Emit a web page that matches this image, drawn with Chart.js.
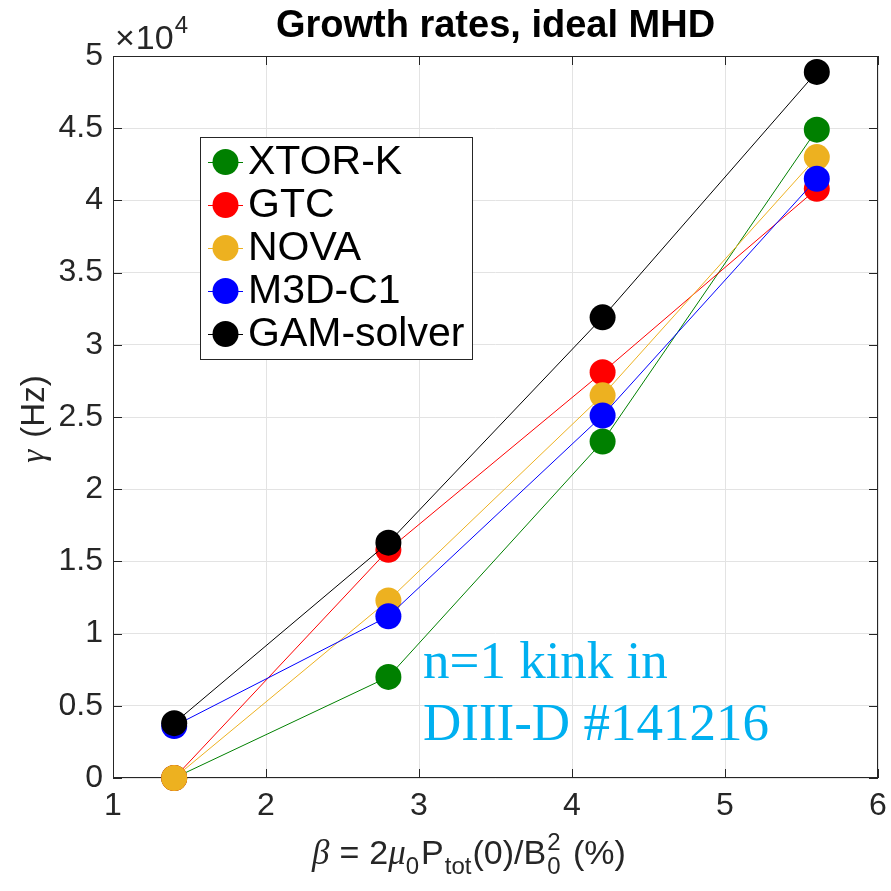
<!DOCTYPE html>
<html>
<head>
<meta charset="utf-8">
<script src="https://cdn.jsdelivr.net/npm/chart.js@4.4.1/dist/chart.umd.min.js"></script>
<style>
  html, body { margin: 0; padding: 0; background: #ffffff; }
  #wrap { width: 891px; height: 891px; position: relative; }
</style>
</head>
<body>
<div id="wrap"><canvas id="growth" width="891" height="891"></canvas></div>
<script>
// Plasma beta (%) at which each code was run
const betaPercent = [1.4, 2.8, 4.2, 5.6];

// Growth rates gamma (Hz) per code
const xtorK     = [0,    7000,  23300, 44900];
const gtc       = [0,    15800, 28100, 40800];
const nova      = [0,    12300, 26500, 43000];
const m3dC1     = [3600, 11200, 25100, 41500];
const gamSolver = [3800, 16300, 31900, 48900];

const seriesNames  = ['XTOR-K', 'GTC', 'NOVA', 'M3D-C1', 'GAM-solver'];
const seriesValues = [xtorK, gtc, nova, m3dC1, gamSolver];
const seriesColors = ['#008000', '#ff0000', '#EDB120', '#0000ff', '#000000'];

// Axis ranges and tick steps
const xRange = [1, 6];
const xStep = 1;
const yRange = [0, 50000];
const yStep = 5000;
const yExponent = 4;

const titleText = 'Growth rates, ideal MHD';
const noteLines = ['n=1 kink in', 'DIII-D #141216'];

const SANS = '"Liberation Sans", Arial, Helvetica, sans-serif';
const SERIF = '"Liberation Serif", "Times New Roman", serif';
const AXIS_COLOR = '#262626';

const datasets = seriesNames.map((name, k) => ({
  label: name,
  data: betaPercent.map((b, i) => ({ x: b, y: seriesValues[k][i] })),
  borderColor: seriesColors[k],
  backgroundColor: seriesColors[k],
  pointBackgroundColor: seriesColors[k],
  pointBorderColor: seriesColors[k],
  pointBorderWidth: 0,
  pointRadius: 13,
  pointHoverRadius: 13,
  borderWidth: 1,
  tension: 0,
  clip: false,
  // later series are painted on top
  order: seriesNames.length - k
}));

// Text runs with sub/superscripts, laid out left to right from a baseline
function runsWidth(ctx, runs) {
  let w = 0;
  for (const r of runs) {
    ctx.font = r.font;
    const rw = ctx.measureText(r.t).width;
    if (!r.stack) w += rw + (r.gap || 0);
  }
  return w;
}
function drawRuns(ctx, runs, x, y) {
  let cx = x;
  for (const r of runs) {
    ctx.font = r.font;
    ctx.fillText(r.t, cx, y + (r.dy || 0));
    const rw = ctx.measureText(r.t).width;
    if (!r.stack) cx += rw + (r.gap || 0);
  }
}

const decorations = {
  id: 'decorations',
  beforeDatasetsDraw(chart) {
    const { ctx, chartArea: a, scales } = chart;
    ctx.save();
    // axes box
    ctx.strokeStyle = AXIS_COLOR;
    ctx.lineWidth = 1;
    ctx.strokeRect(Math.round(a.left) + 0.5, Math.round(a.top) + 0.5,
                   Math.round(a.right - a.left) - 1, Math.round(a.bottom - a.top) - 1);
    // inward tick marks on all four sides
    const tl = 9;
    ctx.beginPath();
    for (let v = xRange[0]; v <= xRange[1]; v += xStep) {
      const px = Math.round(scales.x.getPixelForValue(v)) + 0.5;
      ctx.moveTo(px, a.bottom); ctx.lineTo(px, a.bottom - tl);
      ctx.moveTo(px, a.top); ctx.lineTo(px, a.top + tl);
    }
    for (let v = yRange[0]; v <= yRange[1]; v += yStep) {
      const py = Math.round(scales.y.getPixelForValue(v)) + 0.5;
      ctx.moveTo(a.left, py); ctx.lineTo(a.left + tl, py);
      ctx.moveTo(a.right, py); ctx.lineTo(a.right - tl, py);
    }
    ctx.stroke();
    ctx.restore();
  },
  afterDatasetsDraw(chart) {
    const { ctx, chartArea: a } = chart;
    const cx = (a.left + a.right) / 2;
    ctx.save();
    ctx.textBaseline = 'alphabetic';

    // title
    ctx.fillStyle = '#000000';
    ctx.font = 'bold 38px ' + SANS;
    ctx.textAlign = 'center';
    ctx.fillText(titleText, cx, 37);

    // exponent marker above the y axis
    ctx.textAlign = 'left';
    ctx.fillStyle = AXIS_COLOR;
    drawRuns(ctx, [
      { t: '\u00d7', font: '34px ' + SANS, gap: 1 },
      { t: '10', font: '34px ' + SANS, gap: 1 },
      { t: String(yExponent), font: '24px ' + SANS, dy: -16 }
    ], a.left + 2, 49);

    // x axis title
    const base = '34px ' + SANS;
    const small = '24px ' + SANS;
    const greek = 'italic 35px ' + SERIF;
    const xRuns = [
      { t: '\u03b2', font: greek, gap: 10 },
      { t: '=', font: base, gap: 10 },
      { t: '2', font: base },
      { t: '\u03bc', font: greek, gap: 0 },
      { t: '0', font: small, dy: 10, gap: 2 },
      { t: 'P', font: base, gap: 1 },
      { t: 'tot', font: small, dy: 10, gap: 1 },
      { t: '(0)/B', font: base, gap: 1 },
      { t: '2', font: small, dy: -14, stack: true },
      { t: '0', font: small, dy: 10, gap: 3 },
      { t: ' (%)', font: base }
    ];
    drawRuns(ctx, xRuns, 312, 864);

    // y axis title
    const yRuns = [
      { t: '\u03b3', font: 'italic 33px ' + SERIF, gap: 12 },
      { t: '(Hz)', font: '33px ' + SANS }
    ];
    const yw = runsWidth(ctx, yRuns);
    ctx.translate(44, 419);
    ctx.rotate(-Math.PI / 2);
    drawRuns(ctx, yRuns, -yw / 2, 0);
    ctx.setTransform(1, 0, 0, 1, 0, 0);

    // legend box inside the axes
    const lx = 200, ly = 137, lw = 272, lh = 222;
    ctx.fillStyle = '#ffffff';
    ctx.fillRect(lx, ly, lw, lh);
    ctx.strokeStyle = AXIS_COLOR;
    ctx.lineWidth = 1;
    ctx.strokeRect(lx + 0.5, ly + 0.5, lw, lh);
    const rowH = 43;
    ctx.font = '41px ' + SANS;
    ctx.textBaseline = 'middle';
    chart.data.datasets.forEach((ds, i) => {
      const ry = 162 + i * rowH;
      ctx.strokeStyle = ds.borderColor;
      ctx.beginPath();
      ctx.moveTo(208, ry + 0.5); ctx.lineTo(243, ry + 0.5);
      ctx.stroke();
      ctx.fillStyle = ds.pointBackgroundColor;
      ctx.beginPath();
      ctx.arc(225.5, ry, 13, 0, Math.PI * 2);
      ctx.fill();
      ctx.fillStyle = '#000000';
      ctx.fillText(ds.label, 248, ry + 1);
    });

    // case annotation
    ctx.textBaseline = 'alphabetic';
    ctx.fillStyle = '#00B0F0';
    ctx.font = '53px ' + SERIF;
    ctx.fillText(noteLines[0], 423, 678);
    ctx.fillText(noteLines[1], 423, 740);
    ctx.restore();
  }
};

// keep the plotting box fixed: no extra room reserved for edge labels
function fixBox(s, size) {
  if (s.isHorizontal()) s.height = size; else s.width = size;
  s.paddingLeft = 0; s.paddingRight = 0; s.paddingTop = 0; s.paddingBottom = 0;
}

new Chart(document.getElementById('growth'), {
  type: 'line',
  data: { datasets },
  options: {
    responsive: false,
    animation: false,
    devicePixelRatio: 1,
    layout: { padding: { top: 56, right: 11, left: 0, bottom: 0 } },
    plugins: { legend: { display: false }, tooltip: { enabled: false }, title: { display: false } },
    events: [],
    scales: {
      x: {
        type: 'linear',
        min: xRange[0], max: xRange[1],
        ticks: { stepSize: xStep, color: AXIS_COLOR, font: { family: SANS, size: 32 }, padding: 9, maxRotation: 0 },
        grid: { color: '#e3e3e3', drawTicks: false },
        border: { display: false },
        afterFit(s) { fixBox(s, 113); }
      },
      y: {
        type: 'linear',
        min: yRange[0], max: yRange[1],
        ticks: {
          stepSize: yStep, color: AXIS_COLOR, font: { family: SANS, size: 32 }, padding: 10,
          callback: (v) => String(v / Math.pow(10, yExponent))
        },
        grid: { color: '#e3e3e3', drawTicks: false },
        border: { display: false },
        afterFit(s) { fixBox(s, 113); }
      }
    }
  },
  plugins: [decorations]
});
</script>
</body>
</html>
